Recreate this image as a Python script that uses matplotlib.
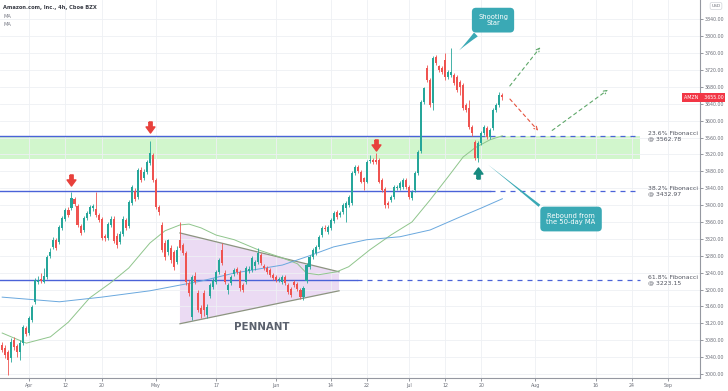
import matplotlib
matplotlib.use("Agg")
import matplotlib.pyplot as plt
import numpy as np
import pandas as pd
from matplotlib.path import Path
from matplotlib.patches import Polygon, Rectangle
import matplotlib.transforms as mtransforms

# 4h candles, AMZN, Mar 25 - Jul 23 2021 (two bars per trading day)
opens = [3069, 3062, 3052, 3038, 3081, 3066, 3052, 3073, 3109, 3097, 3128, 3171, 3218, 3225, 3218, 3230, 3279,
         3301, 3317, 3313, 3346, 3367, 3388, 3393, 3414, 3398, 3350, 3341, 3369, 3379, 3393, 3391, 3377, 3367,
         3327, 3322, 3353, 3367, 3327, 3313, 3332, 3365, 3350, 3405, 3433, 3419, 3483, 3464, 3478, 3500, 3519,
         3459, 3395, 3353, 3310, 3289, 3298, 3289, 3265, 3317, 3305, 3287, 3215, 3135, 3232, 3192, 3156, 3192,
         3140, 3185, 3206, 3218, 3242, 3294, 3239, 3199, 3215, 3237, 3249, 3242, 3211, 3218, 3244, 3246, 3256,
         3265, 3282, 3256, 3251, 3246, 3234, 3230, 3223, 3218, 3230, 3211, 3201, 3218, 3213, 3199, 3182, 3220,
         3253, 3277, 3287, 3301, 3329, 3346, 3336, 3346, 3362, 3384, 3377, 3384, 3393, 3400, 3405, 3476, 3490,
         3478, 3464, 3455, 3505, 3507, 3507, 3507, 3459, 3438, 3405, 3412, 3419, 3440, 3440, 3443, 3459, 3443,
         3417, 3436, 3476, 3528, 3644, 3725, 3696, 3642, 3751, 3729, 3725, 3744, 3703, 3708, 3708, 3703, 3691,
         3684, 3637, 3630, 3585, 3549, 3511, 3547, 3571, 3583, 3561, 3583, 3625, 3637, 3661]
highs = [3076, 3069, 3057, 3085, 3088, 3071, 3081, 3116, 3114, 3137, 3163, 3227, 3232, 3239, 3251, 3282, 3298,
         3324, 3322, 3353, 3374, 3393, 3395, 3431, 3419, 3403, 3355, 3374, 3386, 3400, 3403, 3431, 3381, 3372,
         3332, 3360, 3374, 3374, 3334, 3339, 3374, 3369, 3412, 3448, 3440, 3488, 3490, 3486, 3507, 3552, 3523,
         3464, 3400, 3360, 3317, 3320, 3305, 3294, 3303, 3360, 3310, 3291, 3223, 3234, 3242, 3199, 3163, 3199,
         3166, 3215, 3227, 3246, 3275, 3310, 3246, 3215, 3234, 3251, 3253, 3246, 3215, 3256, 3256, 3279, 3270,
         3298, 3287, 3260, 3256, 3251, 3239, 3234, 3230, 3234, 3234, 3215, 3206, 3223, 3218, 3204, 3208, 3263,
         3282, 3298, 3305, 3329, 3350, 3353, 3353, 3369, 3386, 3388, 3386, 3405, 3410, 3424, 3481, 3495, 3495,
         3483, 3467, 3507, 3519, 3511, 3523, 3511, 3464, 3443, 3410, 3424, 3448, 3448, 3457, 3464, 3464, 3448,
         3436, 3481, 3530, 3649, 3680, 3732, 3700, 3752, 3755, 3732, 3729, 3760, 3720, 3772, 3713, 3708, 3696,
         3689, 3642, 3649, 3590, 3554, 3552, 3576, 3590, 3587, 3583, 3630, 3642, 3668, 3666]
lows = [3052, 3038, 2998, 3028, 3057, 3040, 3033, 3069, 3090, 3092, 3123, 3166, 3213, 3215, 3215, 3225, 3275,
        3296, 3294, 3308, 3341, 3362, 3372, 3388, 3398, 3348, 3329, 3336, 3365, 3374, 3386, 3372, 3360, 3317,
        3315, 3317, 3348, 3310, 3298, 3308, 3327, 3341, 3346, 3400, 3410, 3414, 3455, 3459, 3474, 3495, 3455,
        3391, 3377, 3289, 3270, 3282, 3263, 3246, 3260, 3294, 3282, 3211, 3185, 3128, 3213, 3147, 3133, 3137,
        3133, 3180, 3201, 3213, 3237, 3258, 3213, 3189, 3211, 3232, 3237, 3197, 3194, 3213, 3239, 3242, 3246,
        3260, 3258, 3246, 3237, 3230, 3223, 3218, 3218, 3213, 3211, 3189, 3182, 3206, 3197, 3178, 3175, 3215,
        3249, 3272, 3282, 3296, 3324, 3339, 3332, 3341, 3358, 3367, 3372, 3379, 3360, 3395, 3400, 3471, 3476,
        3452, 3436, 3452, 3500, 3497, 3497, 3452, 3431, 3393, 3393, 3407, 3414, 3436, 3436, 3438, 3438, 3414,
        3412, 3431, 3471, 3523, 3639, 3691, 3632, 3625, 3732, 3715, 3710, 3696, 3698, 3703, 3684, 3668, 3661,
        3625, 3620, 3580, 3564, 3507, 3502, 3542, 3566, 3556, 3556, 3578, 3620, 3632, 3650]
closes = [3057, 3045, 3033, 3076, 3064, 3052, 3073, 3111, 3095, 3133, 3159, 3223, 3223, 3220, 3232, 3277, 3289,
          3317, 3298, 3348, 3369, 3388, 3377, 3417, 3403, 3353, 3334, 3369, 3381, 3395, 3398, 3377, 3365, 3322,
          3322, 3355, 3367, 3315, 3305, 3332, 3367, 3346, 3407, 3443, 3414, 3483, 3459, 3478, 3502, 3523, 3459,
          3395, 3384, 3294, 3277, 3317, 3270, 3253, 3294, 3298, 3287, 3218, 3192, 3230, 3218, 3152, 3142, 3152,
          3159, 3211, 3223, 3242, 3270, 3263, 3218, 3211, 3230, 3246, 3242, 3204, 3199, 3251, 3249, 3275, 3265,
          3287, 3263, 3251, 3242, 3234, 3227, 3223, 3225, 3230, 3215, 3194, 3187, 3211, 3201, 3182, 3204, 3258,
          3277, 3294, 3301, 3324, 3346, 3343, 3348, 3365, 3381, 3372, 3381, 3400, 3405, 3419, 3476, 3490, 3481,
          3455, 3455, 3502, 3507, 3502, 3502, 3455, 3436, 3400, 3400, 3419, 3443, 3443, 3452, 3459, 3443, 3419,
          3431, 3476, 3526, 3644, 3677, 3696, 3637, 3748, 3736, 3720, 3715, 3703, 3715, 3715, 3689, 3673, 3680,
          3630, 3625, 3585, 3571, 3511, 3547, 3571, 3585, 3561, 3578, 3625, 3637, 3661, 3655]
first_bar = 3  # Mar 25, second 4h bar

# moving averages read at selected bars
ma_green_x = [3, 11, 19, 25, 32, 39, 45, 52, 57, 62, 65, 69, 74, 80, 88, 96, 101, 104, 108, 114, 118, 125, 132,
              139, 145, 151, 156, 160, 165, 169]
ma_green = [3097, 3073, 3088, 3123, 3180, 3216, 3251, 3310, 3339, 3353, 3355, 3346, 3329, 3318, 3294, 3275, 3261,
            3239, 3235, 3242, 3254, 3294, 3329, 3360, 3412, 3467, 3514, 3536, 3555, 3564]
ma_blue_x = [3, 22, 36, 52, 69, 80, 96, 105, 113, 124, 135, 145, 155, 162, 169]
ma_blue = [3182, 3171, 3182, 3197, 3220, 3239, 3258, 3280, 3301, 3318, 3325, 3341, 3372, 3393, 3415]

fib_levels = [3562.78, 3432.97, 3223.15]
fib_names = ["23.6% Fibonacci", "38.2% Fibonacci", "61.8% Fibonacci"]
fib_solid_end = [161.6, 164.9, 120.8]
zone = (3510, 3562.78)

tick_dates = ["2021-04-01", "2021-04-12", "2021-04-20", "2021-05-03", "2021-05-17", "2021-06-01", "2021-06-14",
              "2021-06-22", "2021-07-01", "2021-07-12", "2021-07-20", "2021-08-02", "2021-08-16", "2021-08-24",
              "2021-09-01"]
tick_labels = ["Apr", "12", "20", "May", "17", "Jun", "14", "22", "Jul", "12", "20", "Aug", "16", "24", "Sep"]
holidays = ["2021-04-02", "2021-05-31", "2021-07-05"]

last_price = 3655.00

# trading calendar -> bar positions (2 bars per day)
days = pd.bdate_range("2021-03-24", "2021-09-30")
days = days[~days.isin(pd.to_datetime(holidays))]
tick_pos = [2 * days.get_loc(pd.Timestamp(d)) for d in tick_dates]

UP, DOWN = "#26a69a", "#ef5350"
FIB = "#4a62d8"
TEAL = "#3aa9b5"

fig = plt.figure(figsize=(7.28, 3.91), dpi=100)
ax = fig.add_axes([0, 13 / 391, 700 / 728, 378 / 391])
ax.set_xlim(2.27, 234.6)
ax.set_ylim(2990.5, 3885.7)

# green support zone
ax.add_patch(Rectangle((2.27, zone[0]), 214.7 - 2.27, zone[1] - zone[0], color="#c9f5c3", alpha=0.85, lw=0, zorder=1))

# fib lines
for lvl, name, se in zip(fib_levels, fib_names, fib_solid_end):
    ax.plot([2.27, se], [lvl, lvl], color=FIB, lw=1.0, zorder=2)
    ax.plot([se, 214.7], [lvl, lvl], color=FIB, lw=0.9, dashes=(4, 4), zorder=2)
    ax.text(217.4, lvl, f"{name}\n@ {lvl:.2f}", fontsize=4.4, color="#50535e", va="center", ha="left",
            linespacing=1.05, zorder=5)

# pennant
pen_x = [62, 114.8, 114.8, 62]
pen_y = [3334, 3242, 3197, 3119]
ax.add_patch(Polygon(list(zip(pen_x, pen_y)), closed=True, fc="#e3cdef", alpha=0.7, ec="none", zorder=1.5))
ax.plot(pen_x[:2], pen_y[:2], color="#8c9480", lw=0.9, zorder=2.5)
ax.plot(pen_x[2:], pen_y[2:], color="#8c9480", lw=0.9, zorder=2.5)
ax.text(89, 3112, "PENNANT", fontsize=7.4, fontweight="bold", color="#5b616d", ha="center", va="center")

# moving averages
ax.plot(ma_green_x, ma_green, color="#8fc58c", lw=0.7, zorder=3)
ax.plot(ma_blue_x, ma_blue, color="#6aa8de", lw=0.7, zorder=3)

# candles
o = np.array(opens); h = np.array(highs); l = np.array(lows); c = np.array(closes)
xs = first_bar + np.arange(len(o))
col = np.where(c >= o, UP, DOWN)
ax.vlines(xs, l, h, colors=col, lw=0.6, zorder=4)
ax.bar(xs, np.maximum(np.abs(c - o), 1.5), bottom=np.minimum(o, c), width=0.68, color=col, lw=0, zorder=4)

# arrows
down = Path([(-0.3, 1), (0.3, 1), (0.3, 0.1), (0.8, 0.1), (0, -1), (-0.8, 0.1), (-0.3, 0.1), (-0.3, 1)])
up = Path([(-0.3, -1), (0.3, -1), (0.3, -0.1), (0.8, -0.1), (0, 1), (-0.8, -0.1), (-0.3, -0.1), (-0.3, -1)])
ax.plot([25.8, 52.1, 127.1], [3459, 3585, 3542], ls="none", marker=down, ms=8, color="#e8413c", zorder=6)
ax.plot([161], [3476], ls="none", marker=up, ms=8, color="#178a80", zorder=6)

# projections
ax.annotate("", xy=(182.2, 3779), xytext=(170.9, 3677),
            arrowprops=dict(arrowstyle="->", color="#5fa86a", lw=0.8, ls=(0, (3, 3)), mutation_scale=6))
ax.annotate("", xy=(181.5, 3571), xytext=(170.9, 3656),
            arrowprops=dict(arrowstyle="->", color="#e5533f", lw=0.8, ls=(0, (3, 3)), mutation_scale=6))
ax.annotate("", xy=(204.8, 3677), xytext=(184.8, 3573),
            arrowprops=dict(arrowstyle="->", color="#5fa86a", lw=0.8, ls=(0, (3, 3)), mutation_scale=6))

# callouts
ax.annotate("Shooting\nStar", xy=(154, 3762), xytext=(165.9, 3838), fontsize=4.9, color="white",
            ha="center", va="center", linespacing=1.1, zorder=7,
            bbox=dict(boxstyle="round,pad=0.9,rounding_size=0.6", fc=TEAL, ec="none"),
            arrowprops=dict(arrowstyle="wedge,tail_width=0.8,shrink_factor=0.4", fc=TEAL, ec="none",
                            relpos=(0.3, 0.2)))
ax.annotate("Rebound from\nthe 50-day MA", xy=(163.5, 3500), xytext=(191.8, 3367), fontsize=4.9, color="white",
            ha="center", va="center", linespacing=1.1, zorder=7,
            bbox=dict(boxstyle="round,pad=0.9,rounding_size=0.6", fc=TEAL, ec="none"),
            arrowprops=dict(arrowstyle="wedge,tail_width=0.4,shrink_factor=0.4", fc=TEAL, ec="none",
                            relpos=(0.1, 0.8)))

# axes styling
ax.set_yticks(np.arange(3000, 3841, 40))
ax.yaxis.tick_right()
ax.yaxis.set_major_formatter(matplotlib.ticker.FormatStrFormatter("%.2f"))
ax.set_xticks(tick_pos)
ax.set_xticklabels(tick_labels)
ax.tick_params(axis="both", labelsize=3.4, colors="#6b6e78", length=2, width=0.5, pad=1.5)
ax.grid(True, color="#eef0f4", lw=0.6, zorder=0)
for s in ["top", "left"]:
    ax.spines[s].set_visible(False)
for s in ["right", "bottom"]:
    ax.spines[s].set_color("#9598a1")
    ax.spines[s].set_linewidth(0.8)

# last price label
tr = mtransforms.blended_transform_factory(ax.transAxes, ax.transData)
ax.text(0.977, last_price, f"AMZN    {last_price:.2f}", transform=tr, fontsize=3.4, color="white", va="center",
        ha="left", clip_on=False, zorder=8, bbox=dict(boxstyle="square,pad=0.35", fc="#f23645", ec="none"))
fig.text(716 / 728, 1 - 6 / 391, "USD", fontsize=3.2, color="#6b6e78", ha="center", va="center",
         bbox=dict(boxstyle="round,pad=0.3", fc="white", ec="#c5c8cf", lw=0.4))

fig.text(3 / 728, 1 - 8 / 391, "Amazon.com, Inc., 4h, Cboe BZX", fontsize=3.7, fontweight="bold", color="#3c3f48",
         va="center")
fig.text(3 / 728, 1 - 16 / 391, "MA", fontsize=3.7, color="#787b86", va="center")
fig.text(3 / 728, 1 - 24 / 391, "MA", fontsize=3.7, color="#787b86", va="center")

fig.savefig("out.png", dpi=100)
